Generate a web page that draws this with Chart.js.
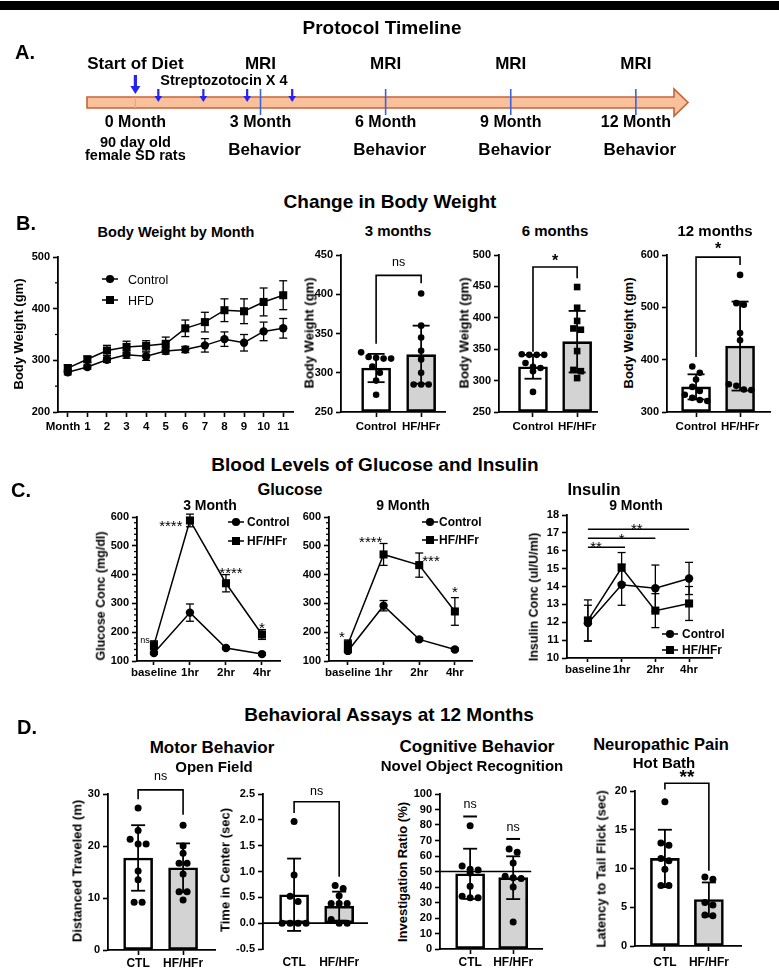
<!DOCTYPE html>
<html>
<head>
<meta charset="utf-8">
<title>Protocol timeline, body weight, glucose/insulin and behaviour</title>
<script src="https://cdn.jsdelivr.net/npm/chart.js@4.4.1/dist/chart.umd.min.js"></script>
<style>
html,body{margin:0;padding:0;background:#fff;}
#page{position:relative;width:779px;height:972px;overflow:hidden;background:#fff;font-family:"Liberation Sans",Arial,Helvetica,sans-serif;color:#000;}
.box{position:absolute;}
.t{position:absolute;white-space:nowrap;font-weight:bold;line-height:1;transform:translate(-50%,-50%);z-index:5;}
.t.r{transform:translate(-50%,-50%) rotate(-90deg);}
#topbar{position:absolute;left:0;top:1px;width:779px;height:9px;background:#000;}
</style>
</head>
<body>
<div id="page"><div id="topbar"></div></div>
<script>
// ================= DATA =================
// Panel A : protocol timeline (months)
const timelineMonths = [0, 3, 6, 9, 12];
const timelineMonthLabels = ['0 Month', '3 Month', '6 Month', '9 Month', '12 Month'];
const mriMonths = [3, 6, 9, 12];
const behaviorMonths = [3, 6, 9, 12];
const stzMonths = [0.55, 1.63, 2.68, 3.76];
const dietStartMonth = 0;

// Panel B : body weight by month
const bwMonthValues = [0, 1, 2, 3, 4, 5, 6, 7, 8, 9, 10, 11];
const bwMonthLabels = ['Month', '1', '2', '3', '4', '5', '6', '7', '8', '9', '10', '11'];
const bwControlMean = [277, 287, 301, 311, 308, 318, 321, 329, 341, 334, 356, 362];
const bwControlSD   = [5, 4, 5, 7, 8, 6, 6, 13, 14, 16, 18, 19];
const bwHFDMean     = [285, 302, 319, 326, 328, 332, 362, 374, 397, 395, 413, 426];
const bwHFDSD       = [6, 6, 10, 11, 10, 13, 16, 19, 22, 24, 27, 28];
const bwYTicks = [200, 300, 400, 500];

// Panel B : single time points
const groupLabels = ['Control', 'HF/HFr'];
const bw3Mean = [306, 323];
const bw3SD = [18, 37];
const bw3Control = [326, 320, 319, 318, 318, 308, 300, 290, 272];
const bw3HF = [401, 360, 345, 328, 317, 300, 285, 285, 285];
const bw3YTicks = [250, 300, 350, 400, 450];

const bw6Mean = [322, 362];
const bw6SD = [19, 49];
const bw6Control = [342, 341, 341, 341, 328, 322, 320, 315, 282];
const bw6HF = [449, 416, 395, 383, 381, 347, 317, 315, 304];
const bw6YTicks = [250, 300, 350, 400, 450, 500];

const bw12Mean = [348, 426];
const bw12SD = [24, 85];
const bw12Control = [387, 375, 362, 348, 340, 333, 327, 323, 321];
const bw12HF = [562, 508, 505, 451, 437, 353, 350, 343, 342];
const bw12YTicks = [300, 400, 500, 600];

// Panel C : glucose / insulin
const timeValues = [0, 1, 2, 3];
const timeLabels = ['baseline', '1hr', '2hr', '4hr'];
const glu3ControlMean = [128, 268, 145, 124];
const glu3ControlSD   = [5, 30, 5, 4];
const glu3HFMean      = [155, 588, 370, 192];
const glu3HFSD        = [15, 22, 30, 17];
const glu9ControlMean = [135, 292, 175, 140];
const glu9ControlSD   = [6, 18, 5, 5];
const glu9HFMean      = [158, 470, 433, 272];
const glu9HFSD        = [15, 38, 42, 48];
const gluYTicks = [100, 200, 300, 400, 500, 600];
const ins9ControlMean = [11.95, 14.1, 13.9, 14.45];
const ins9ControlSD   = [1.0, 1.15, 1.3, 0.9];
const ins9HFMean      = [12.1, 15.05, 12.65, 13.05];
const ins9HFSD        = [1.15, 0.85, 0.95, 0.95];
const insYTicks = [10, 11, 12, 13, 14, 15, 16, 17, 18];

// Panel D : behaviour at 12 months
const behLabels = ['CTL', 'HF/HFr'];
const distMean = [17.7, 15.8];
const distSD = [6.3, 4.7];
const distCTL = [27.3, 23.0, 21.3, 20.4, 20.4, 15.2, 13.5, 9.2, 9.2];
const distHF = [24.0, 20.0, 18.6, 16.7, 16.7, 14.6, 11.2, 11.2, 9.6];
const distYTicks = [0, 10, 20, 30];

const centerMean = [0.55, 0.33];
const centerSD = [0.70, 0.28];
const centerCTL = [1.97, 0.93, 0.52, 0.42, 0, 0, 0, 0];
const centerHF = [0.73, 0.67, 0.53, 0.38, 0.38, 0.38, 0.07, 0, 0];
const centerYTicks = [-0.5, 0, 0.5, 1.0, 1.5, 2.0, 2.5];

const invMean = [48.5, 46];
const invSD = [16.2, 13.8];
const invCTL = [79.5, 53.5, 51.5, 51, 49, 40.5, 34, 33, 33];
const invHF = [64.5, 62.5, 55.5, 47, 46, 45.5, 40, 17.5];
const invYTicks = [0, 10, 20, 30, 40, 50, 60, 70, 80, 90, 100];
const invChance = 50;

const latMean = [11.3, 6.0];
const latSD = [3.7, 2.2];
const latCTL = [18.6, 13.3, 13.0, 11.3, 11.0, 9.9, 7.8, 7.8];
const latHF = [8.9, 8.6, 5.6, 5.3, 4.0, 3.9];
const latYTicks = [0, 5, 10, 15, 20];

// ================= HELPERS =================
const FONT = '"Liberation Sans", Arial, Helvetica, sans-serif';
Chart.defaults.font.family = FONT;
Chart.defaults.color = '#000';
Chart.defaults.animation = false;

const page = document.getElementById('page');
const pts = (xv, yv) => xv.map((x, i) => ({ x, y: yv[i] }));

function seg(ctx, x1, y1, x2, y2, w) {
  ctx.beginPath(); ctx.lineWidth = w; ctx.strokeStyle = '#000';
  ctx.moveTo(x1, y1); ctx.lineTo(x2, y2); ctx.stroke();
}
function marker(ctx, style, x, y, r) {
  ctx.beginPath(); ctx.fillStyle = '#000';
  if (style === 'rect') ctx.rect(x - r, y - r, 2 * r, 2 * r);
  else ctx.arc(x, y, r, 0, Math.PI * 2);
  ctx.fill();
}

function drawErrors(chart, o) {
  const ctx = chart.ctx, xs = chart.scales.x, ys = chart.scales.y;
  const w = o.errW || 1.4, c = (o.cap || 8) / 2;
  chart.data.datasets.forEach(ds => {
    if (!ds.sd) return;
    ds.data.forEach((p, i) => {
      const s = ds.sd[i]; if (!s) return;
      const x = xs.getPixelForValue(p.x), yt = ys.getPixelForValue(p.y + s), yb = ys.getPixelForValue(p.y - s);
      seg(ctx, x, yt, x, yb, w);
      seg(ctx, x - c, yt, x + c, yt, w);
      seg(ctx, x - c, yb, x + c, yb, w);
    });
  });
}

function drawDots(chart, o) {
  const ctx = chart.ctx, xs = chart.scales.x, ys = chart.scales.y;
  const r = o.dotR || 3.3, sp = o.dotSp || 7.5, th = o.dotTh || 6.5;
  (o.dots || []).forEach(g => {
    const list = g.values.map((v, i) => ({ v, i, py: ys.getPixelForValue(v) })).sort((a, b) => a.py - b.py);
    const rows = []; let cur = null;
    list.forEach(p => { if (!cur || p.py - cur.y0 > th) { cur = { y0: p.py, items: [] }; rows.push(cur); } cur.items.push(p); });
    const cx = xs.getPixelForValue(g.x);
    rows.forEach(rw => {
      const n = rw.items.length;
      rw.items.forEach((p, k) => marker(ctx, g.style, cx + (k - (n - 1) / 2) * sp, p.py, r));
    });
  });
}

const deco = {
  id: 'deco',
  beforeDatasetsDraw(chart, a, o) {
    if (o && o.errBefore) { chart.ctx.save(); drawErrors(chart, o); chart.ctx.restore(); }
  },
  afterDatasetsDraw(chart, a, o) {
    if (!o || !o.active) return;
    const ctx = chart.ctx, xs = chart.scales.x, ys = chart.scales.y;
    const X = v => xs.getPixelForValue(v), Y = v => ys.getPixelForValue(v);
    ctx.save();
    if (o.minor) {
      const left = chart.chartArea.left;
      const majors = ys.ticks.map(t => t.value);
      for (let v = ys.min; v <= ys.max + 1e-9; v += o.minor.step) {
        if (majors.some(m => Math.abs(m - v) < 1e-6)) continue;
        seg(ctx, left, Y(v), left - o.minor.len, Y(v), 1.3);
      }
    }
    (o.hlines || []).forEach(h => seg(ctx, X(h.x1), Y(h.y), X(h.x2), Y(h.y), h.w || 1.6));
    drawDots(chart, o);
    if (!o.errBefore) drawErrors(chart, o);
    (o.brackets || []).forEach(b => {
      ctx.beginPath(); ctx.lineWidth = 1.6; ctx.strokeStyle = '#000';
      ctx.moveTo(X(b.x1), Y(b.y1)); ctx.lineTo(X(b.x1), Y(b.y)); ctx.lineTo(X(b.x2), Y(b.y)); ctx.lineTo(X(b.x2), Y(b.y2));
      ctx.stroke();
    });
    (o.notes || []).forEach(n => {
      const s = n.s || 12;
      ctx.font = `${n.w || 'normal'} ${s}px ${FONT}`; ctx.fillStyle = '#000';
      ctx.textAlign = n.a || 'center'; ctx.textBaseline = 'alphabetic';
      ctx.fillText(n.t, X(n.x), Y(n.y) + (n.k == null ? 0.36 : n.k) * s);
    });
    if (o.legend) {
      const off = o.off, L = o.legend, s = L.size || 12;
      L.items.forEach(it => {
        const cx = L.mx - off.x, cy = it.y - off.y;
        seg(ctx, cx - L.half, cy, cx + L.half, cy, 1.5);
        marker(ctx, it.style, cx, cy, it.style === 'rect' ? 4 : 4.1);
        ctx.font = `${L.weight || 'bold'} ${s}px ${FONT}`; ctx.fillStyle = '#000';
        ctx.textAlign = 'left'; ctx.textBaseline = 'alphabetic';
        ctx.fillText(it.label, L.tx - off.x, cy + 0.36 * s);
      });
    }
    ctx.restore();
  }
};
Chart.register(deco);

function xAxis(min, max, vals, labels, o) {
  o = o || {};
  const show = o.tl !== 0;
  return {
    type: 'linear', min, max, offset: false,
    afterBuildTicks: s => { s.ticks = vals.map(v => ({ value: v })); },
    ticks: { autoSkip: false, maxRotation: 0, minRotation: 0, padding: o.pad ?? 3,
      font: { size: o.fs || 11.5, weight: 'bold' }, color: '#000',
      callback: v => { const i = vals.indexOf(v); if (i < 0) return ''; return o.firstPad && i === 0 ? labels[i] + o.firstPad : labels[i]; } },
    grid: { display: show, offset: false, drawOnChartArea: false, drawTicks: show, tickLength: o.tl ?? 5, tickColor: '#000', tickWidth: 1.6 },
    border: { display: o.border !== false, color: '#000', width: 1.8 }
  };
}
function yAxis(min, max, vals, o) {
  o = o || {};
  return {
    type: 'linear', min, max,
    afterBuildTicks: s => { s.ticks = vals.map(v => ({ value: v })); },
    ticks: { autoSkip: false, padding: o.pad ?? 3, font: { size: o.fs || 11, weight: 'bold' }, color: '#000',
      callback: o.fmt || (v => String(v)) },
    grid: { display: true, drawOnChartArea: false, drawTicks: true, tickLength: o.tl ?? 5, tickColor: '#000', tickWidth: 1.6 },
    border: { display: true, color: '#000', width: 1.8 }
  };
}
function lineDS(xv, mean, sd, style) {
  return { type: 'line', data: pts(xv, mean), sd, borderColor: '#000', backgroundColor: '#000', borderWidth: 1.5,
    pointStyle: style, pointRadius: style === 'rect' ? 5.7 : 4.2, pointBackgroundColor: '#000', pointBorderColor: '#000',
    pointBorderWidth: 0, tension: 0, fill: false, clip: false };
}
function barDS(mean, sd, base) {
  return { type: 'bar', data: mean.map((v, i) => ({ x: i, y: v })), sd, base,
    backgroundColor: ['#ffffff', '#d3d3d3'], borderColor: '#000', borderWidth: 2.6, borderSkipped: false, barThickness: 29 };
}
function mk(box, m, cfg) {
  const L = box.l - m.l, T = box.t - m.t, W = box.r - box.l + m.l + m.r, H = box.b - box.t + m.t + m.b;
  const wrap = document.createElement('div');
  wrap.className = 'box';
  wrap.style.cssText = `left:${L}px;top:${T}px;width:${W}px;height:${H}px;`;
  const cv = document.createElement('canvas');
  wrap.appendChild(cv); page.appendChild(wrap);
  const o = cfg.options;
  o.responsive = true; o.maintainAspectRatio = false; o.animation = false;
  o.layout = { padding: { left: 0, top: m.t, right: m.r, bottom: 0 } };
  o.scales.y.afterFit = s => { s.width = m.l; };
  o.scales.x.afterFit = s => { s.height = m.b; };
  o.plugins = o.plugins || {};
  o.plugins.deco = Object.assign({ active: true, off: { x: L, y: T } }, o.plugins.deco || {});
  o.plugins.legend = { display: false };
  o.plugins.tooltip = { enabled: false };
  return new Chart(cv, cfg);
}
function text(s, x, y, size, rot, weight) {
  const d = document.createElement('div');
  d.className = 't' + (rot ? ' r' : '');
  d.textContent = s;
  d.style.left = x + 'px'; d.style.top = y + 'px'; d.style.fontSize = size + 'px';
  if (weight) d.style.fontWeight = weight;
  page.appendChild(d);
}

// ================= PANEL A : TIMELINE =================
const timelinePlugin = {
  id: 'timeline',
  afterDraw(chart) {
    const ctx = chart.ctx, xs = chart.scales.x;
    const X = m => xs.getPixelForValue(m);
    const x0 = X(xs.min), x1 = X(xs.max), head = 14;
    const yT = 97, yB = 108, hT = 89, hB = 116, yM = (yT + yB) / 2;
    ctx.save();
    ctx.beginPath();
    ctx.moveTo(x0, yT); ctx.lineTo(x1 - head, yT); ctx.lineTo(x1 - head, hT); ctx.lineTo(x1, yM);
    ctx.lineTo(x1 - head, hB); ctx.lineTo(x1 - head, yB); ctx.lineTo(x0, yB); ctx.closePath();
    ctx.fillStyle = '#f9c09b'; ctx.fill();
    ctx.lineWidth = 1.6; ctx.strokeStyle = '#c4643a'; ctx.stroke();
    ctx.strokeStyle = '#e9a764'; ctx.lineWidth = 1;
    ctx.beginPath(); ctx.moveTo(X(dietStartMonth), yT); ctx.lineTo(X(dietStartMonth), yB); ctx.stroke();
    ctx.strokeStyle = '#3565e6'; ctx.lineWidth = 1.6;
    mriMonths.forEach(m => { ctx.beginPath(); ctx.moveTo(X(m), 89); ctx.lineTo(X(m), 115); ctx.stroke(); });
    const arrow = (x, y0, y1, shaft, hw, hl) => {
      ctx.fillStyle = '#2323f2';
      ctx.fillRect(x - shaft / 2, y0, shaft, y1 - hl - y0 + 0.5);
      ctx.beginPath(); ctx.moveTo(x - hw, y1 - hl); ctx.lineTo(x + hw, y1 - hl); ctx.lineTo(x, y1); ctx.closePath(); ctx.fill();
    };
    arrow(X(dietStartMonth), 75, 94, 3.2, 5, 8);
    stzMonths.forEach(m => arrow(X(m), 89, 102, 2.2, 3.8, 6));
    const lab = (s, x, y, size, align) => {
      ctx.font = `bold ${size}px ${FONT}`; ctx.fillStyle = '#000';
      ctx.textAlign = align || 'center'; ctx.textBaseline = 'alphabetic';
      ctx.fillText(s, x, y + 0.36 * size);
    };
    lab('Start of Diet', X(dietStartMonth), 63, 17);
    mriMonths.forEach(m => lab('MRI', X(m), 63, 17));
    lab('Streptozotocin X 4', X(stzMonths[0]) + 2, 80, 14.5, 'left');
    timelineMonths.forEach((m, i) => lab(timelineMonthLabels[i], X(m), 121, 16));
    lab('90 day old', X(dietStartMonth), 142, 14.5);
    lab('female SD rats', X(dietStartMonth), 155, 14.5);
    behaviorMonths.forEach(m => lab('Behavior', X(m) + 4, 149, 17));
    ctx.restore();
  }
};
(function () {
  const wrap = document.createElement('div');
  wrap.className = 'box';
  wrap.style.cssText = 'left:0px;top:0px;width:779px;height:172px;';
  const cv = document.createElement('canvas');
  wrap.appendChild(cv); page.appendChild(wrap);
  new Chart(cv, {
    type: 'scatter',
    data: { datasets: [{ data: [] }] },
    options: {
      responsive: true, maintainAspectRatio: false, animation: false,
      layout: { padding: { left: 87, right: 91, top: 0, bottom: 0 } },
      scales: { x: { type: 'linear', min: -1.16, max: 13.25, display: false }, y: { min: 0, max: 1, display: false } },
      plugins: { legend: { display: false }, tooltip: { enabled: false } }
    },
    plugins: [timelinePlugin]
  });
})();

// ================= PANEL B =================
mk({ l: 58, t: 257, r: 293, b: 412 }, { l: 58, t: 14, r: 10, b: 26 }, {
  type: 'line',
  data: { datasets: [lineDS(bwMonthValues, bwControlMean, bwControlSD, 'circle'), lineDS(bwMonthValues, bwHFDMean, bwHFDSD, 'rect')] },
  options: {
    scales: { x: xAxis(-0.5, 11.5, bwMonthValues, bwMonthLabels, { tl: 5, pad: 3, firstPad: '\u00A0\u00A0\u00A0' }), y: yAxis(200, 500, bwYTicks) },
    plugins: { deco: { errBefore: true, cap: 8, errW: 1.3, minor: { step: 50, len: 3 },
      legend: { mx: 110, tx: 128, half: 8, size: 12.5, weight: 'normal',
        items: [{ label: 'Control', style: 'circle', y: 279 }, { label: 'HFD', style: 'rect', y: 300 }] } } }
  }
});

function bwBar(box, m, mean, sd, ctl, hf, yMin, yMax, yT, xMin, xMax, hfStyle, deco) {
  return mk(box, m, {
    type: 'bar',
    data: { datasets: [barDS(mean, sd, yMin)] },
    options: {
      scales: { x: xAxis(xMin, xMax, [0, 1], groupLabels, { tl: 5, pad: 3, fs: 11.5 }), y: yAxis(yMin, yMax, yT) },
      plugins: { deco: Object.assign({ cap: 17, errW: 1.8, dotR: 3.3, dotSp: 7.5,
        dots: [{ x: 0, values: ctl, style: 'circle' }, { x: 1, values: hf, style: hfStyle }] }, deco) }
    }
  });
}
bwBar({ l: 341, t: 255, r: 445, b: 412 }, { l: 30, t: 14, r: 8, b: 26 }, bw3Mean, bw3SD, bw3Control, bw3HF, 250, 450, bw3YTicks, -0.78, 1.53, 'circle',
  { brackets: [{ x1: 0, x2: 1, y: 424, y1: 337, y2: 414 }], notes: [{ x: 0.5, y: 440, t: 'ns', s: 12.5, k: 0.26 }] });
bwBar({ l: 499, t: 255, r: 597, b: 412 }, { l: 30, t: 14, r: 8, b: 26 }, bw6Mean, bw6SD, bw6Control, bw6HF, 250, 500, bw6YTicks, -0.77, 1.45, 'rect',
  { brackets: [{ x1: 0, x2: 1, y: 481, y1: 346, y2: 463 }], notes: [{ x: 0.5, y: 497, t: '*', s: 16, w: 'bold', k: 0.58 }] });
bwBar({ l: 667, t: 255, r: 770, b: 412 }, { l: 30, t: 20, r: 8, b: 26 }, bw12Mean, bw12SD, bw12Control, bw12HF, 300, 600, bw12YTicks, -0.66, 1.68, 'circle',
  { brackets: [{ x1: 0, x2: 1, y: 596, y1: 405, y2: 581 }], notes: [{ x: 0.5, y: 619, t: '*', s: 16, w: 'bold', k: 0.58 }] });

// ================= PANEL C =================
function gluChart(box, m, xMin, xMax, cMean, cSD, hMean, hSD, yMin, yMax, yT, minor, legend, notes, hlines) {
  return mk(box, m, {
    type: 'line',
    data: { datasets: [lineDS(timeValues, cMean, cSD, 'circle'), lineDS(timeValues, hMean, hSD, 'rect')] },
    options: {
      scales: { x: xAxis(xMin, xMax, timeValues, timeLabels, { tl: 4, pad: 0.5, fs: 11.5 }), y: yAxis(yMin, yMax, yT) },
      plugins: { deco: { errBefore: true, cap: 8, errW: 1.3, minor, legend, notes, hlines } }
    }
  });
}
gluChart({ l: 137, t: 517, r: 280, b: 661 }, { l: 40, t: 14, r: 14, b: 22 }, -0.47, 3.5,
  glu3ControlMean, glu3ControlSD, glu3HFMean, glu3HFSD, 100, 600, gluYTicks, { step: 20, len: 3 },
  { mx: 236, tx: 247, half: 8, size: 12, items: [{ label: 'Control', style: 'circle', y: 522 }, { label: 'HF/HFr', style: 'rect', y: 541 }] },
  [{ x: -0.25, y: 170, t: 'ns', s: 9, k: 0.26 },
   { x: 0.47, y: 583, t: '****', s: 15, k: 0.58 },
   { x: 2.14, y: 420, t: '****', s: 15, k: 0.58 },
   { x: 3, y: 228, t: '*', s: 15, k: 0.58 }]);
gluChart({ l: 329, t: 517, r: 472, b: 661 }, { l: 30, t: 14, r: 14, b: 22 }, -0.53, 3.48,
  glu9ControlMean, glu9ControlSD, glu9HFMean, glu9HFSD, 100, 600, gluYTicks, { step: 20, len: 3 },
  { mx: 430, tx: 439, half: 8, size: 12, items: [{ label: 'Control', style: 'circle', y: 522 }, { label: 'HF/HFr', style: 'rect', y: 540 }] },
  [{ x: -0.17, y: 195, t: '*', s: 15, k: 0.58 },
   { x: 0.64, y: 527, t: '****', s: 15, k: 0.58 },
   { x: 2.33, y: 461, t: '***', s: 15, k: 0.58 },
   { x: 3, y: 353, t: '*', s: 15, k: 0.58 }]);
gluChart({ l: 567, t: 515, r: 712, b: 658 }, { l: 30, t: 14, r: 14, b: 22 }, -0.62, 3.68,
  ins9ControlMean, ins9ControlSD, ins9HFMean, ins9HFSD, 10, 18, insYTicks, null,
  { mx: 670, tx: 682, half: 8, size: 12, items: [{ label: 'Control', style: 'circle', y: 634 }, { label: 'HF/HFr', style: 'rect', y: 650 }] },
  [{ x: 0.24, y: 16.42, t: '**', s: 15, k: 0.58 },
   { x: 1.0, y: 16.85, t: '*', s: 15, k: 0.58 },
   { x: 1.45, y: 17.4, t: '**', s: 15, k: 0.58 }],
  [{ x1: 0, x2: 1.1, y: 16.2, w: 1.6 }, { x1: 0, x2: 2, y: 16.7, w: 1.6 }, { x1: 0, x2: 3, y: 17.2, w: 1.6 }]);

// ================= PANEL D =================
function behBar(box, m, mean, sd, ctl, hf, yMin, yMax, yT, xMin, xMax, xo, yo, deco) {
  return mk(box, m, {
    type: 'bar',
    data: { datasets: [barDS(mean, sd, Math.max(yMin, 0))] },
    options: {
      scales: { x: xAxis(xMin, xMax, [0, 1], behLabels, Object.assign({ tl: 5, pad: 1.5, fs: 12 }, xo)), y: yAxis(yMin, yMax, yT, yo) },
      plugins: { deco: Object.assign({ cap: 14, errW: 1.8, dotR: 3.5, dotSp: 8, dotTh: 6.5,
        dots: [{ x: 0, values: ctl, style: 'circle' }, { x: 1, values: hf, style: 'circle' }] }, deco) }
    }
  });
}
behBar({ l: 108, t: 794, r: 215, b: 950 }, { l: 30, t: 28, r: 10, b: 24 }, distMean, distSD, distCTL, distHF, 0, 30, distYTicks, -0.67, 1.71, {}, {},
  { brackets: [{ x1: 0, x2: 1, y: 30.8, y1: 29, y2: 26 }], notes: [{ x: 0.5, y: 33.3, t: 'ns', s: 12.5, k: 0.26 }] });
behBar({ l: 263, t: 794, r: 368, b: 949 }, { l: 34, t: 28, r: 10, b: 25 }, centerMean, centerSD, centerCTL, centerHF, -0.5, 2.5, centerYTicks, -0.69, 1.64,
  { tl: 0, pad: 6.5, border: false }, { fmt: v => v.toFixed(1) },
  { hlines: [{ x1: -0.69, x2: 1.64, y: 0, w: 1.8 }], brackets: [{ x1: 0, x2: 1, y: 2.35, y1: 2.13, y2: 0.9 }],
    notes: [{ x: 0.5, y: 2.55, t: 'ns', s: 12.5, k: 0.26 }] });
behBar({ l: 440, t: 794, r: 542, b: 949 }, { l: 30, t: 28, r: 10, b: 25 }, invMean, invSD, invCTL, invHF, 0, 100, invYTicks, -0.70, 1.67, {}, {},
  { hlines: [{ x1: -0.70, x2: 1.42, y: invChance, w: 1.5 }, { x1: -0.16, x2: 0.16, y: 85.5, w: 2 }, { x1: 0.84, x2: 1.16, y: 71, w: 2 }],
    notes: [{ x: 0, y: 93, t: 'ns', s: 12.5, k: 0.26 }, { x: 1, y: 78, t: 'ns', s: 12.5, k: 0.26 }] });
behBar({ l: 635, t: 791, r: 741, b: 946 }, { l: 30, t: 30, r: 10, b: 27 }, latMean, latSD, latCTL, latHF, 0, 20, latYTicks, -0.68, 1.73, { pad: 4 }, {},
  { brackets: [{ x1: 0, x2: 1, y: 21, y1: 20.2, y2: 9.7 }], notes: [{ x: 0.5, y: 22.4, t: '**', s: 19, w: 'bold', k: 0.58 }] });

// ================= TEXT =================
[
  ['Protocol Timeline', 382, 27, 19],
  ['A.', 25, 52, 20],
  ['Change in Body Weight', 390, 201, 19],
  ['B.', 26, 223, 20],
  ['Body Weight by Month', 176, 232, 14.5],
  ['3 months', 398, 230, 15],
  ['6 months', 555, 230, 15],
  ['12 months', 715, 230, 15],
  ['Blood Levels of Glucose and Insulin', 375, 464, 19],
  ['C.', 21, 490, 20],
  ['Glucose', 290, 489, 16.5],
  ['3 Month', 210, 505, 14],
  ['9 Month', 403, 505, 14],
  ['Insulin', 594, 489, 16.5],
  ['9 Month', 636, 505, 14],
  ['Behavioral Assays at 12 Months', 389, 714, 19],
  ['D.', 27, 727, 20],
  ['Motor Behavior', 212, 747, 17],
  ['Open Field', 214, 766, 15],
  ['Cognitive Behavior', 477, 746, 17],
  ['Novel Object Recognition', 472, 765, 15],
  ['Neuropathic Pain', 661, 744, 16.5],
  ['Hot Bath', 664, 762, 15]
].forEach(a => text(a[0], a[1], a[2], a[3], false));
[
  ['Body Weight (gm)', 18, 334, 13],
  ['Body Weight (gm)', 309, 333, 13],
  ['Body Weight (gm)', 464, 333, 13],
  ['Body Weight (gm)', 628, 333, 13],
  ['Glucose Conc (mg/dl)', 101, 596, 12.5],
  ['Insulin Conc  (ul/U/ml)', 534, 597, 12.5],
  ['Distanced Traveled (m)', 77, 871, 13],
  ['Time in Center (sec)', 225, 870, 13],
  ['Investigation Ratio (%)', 402, 872, 13],
  ['Latency to Tail Flick (sec)', 601, 869, 13]
].forEach(a => text(a[0], a[1], a[2], a[3], true));
</script>
</body>
</html>
